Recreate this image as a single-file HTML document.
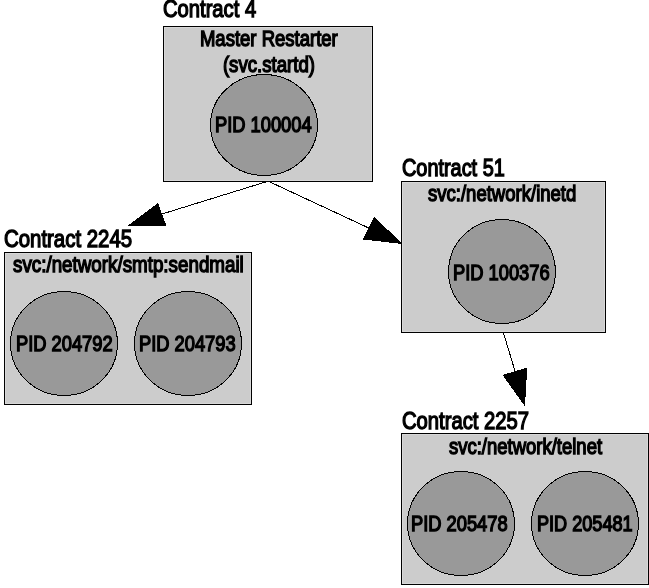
<!DOCTYPE html><html><head><meta charset="utf-8"><style>html,body{margin:0;padding:0;background:#fff;overflow:hidden}svg{display:block;will-change:transform}</style></head><body><svg width="649" height="588" viewBox="0 0 649 588" font-family="Liberation Sans, sans-serif">
<rect x="163.5" y="26.5" width="209" height="155" fill="#cccccc" stroke="#000" stroke-width="1"/>
<rect x="164.5" y="27.5" width="207" height="153" fill="none" stroke="#d8d8d8" stroke-width="1"/>
<rect x="4.5" y="252.5" width="247" height="152" fill="#cccccc" stroke="#000" stroke-width="1"/>
<rect x="5.5" y="253.5" width="245" height="150" fill="none" stroke="#d8d8d8" stroke-width="1"/>
<rect x="401.5" y="181.5" width="204" height="151" fill="#cccccc" stroke="#000" stroke-width="1"/>
<rect x="402.5" y="182.5" width="202" height="149" fill="none" stroke="#d8d8d8" stroke-width="1"/>
<rect x="401.5" y="433.5" width="247" height="151" fill="#cccccc" stroke="#000" stroke-width="1"/>
<rect x="402.5" y="434.5" width="245" height="149" fill="none" stroke="#d8d8d8" stroke-width="1"/>
<g fill="#999999" stroke="#000" stroke-width="1" shape-rendering="crispEdges">
<ellipse cx="264" cy="125" rx="53.5" ry="50.5"/>
<ellipse cx="502" cy="271.5" rx="53.5" ry="52"/>
<ellipse cx="64" cy="343.5" rx="53.5" ry="52"/>
<ellipse cx="188" cy="343.5" rx="53.5" ry="52"/>
<ellipse cx="461" cy="523.5" rx="53.5" ry="52"/>
<ellipse cx="585" cy="523.5" rx="53.5" ry="52"/>
</g>
<g stroke="#000" stroke-width="1" shape-rendering="crispEdges">
<line x1="265.5" y1="182" x2="162" y2="214"/>
<line x1="270" y1="182" x2="368.7" y2="228"/>
<line x1="503.5" y1="333" x2="515" y2="371"/>
</g>
<g fill="#000" shape-rendering="crispEdges">
<polygon points="127.5,226 158,203 166.5,226"/>
<polygon points="374,216.5 363,239.5 402.5,244"/>
<polygon points="502.5,375 527.2,367.5 525,406.5"/>
</g>
<text transform="translate(163.00,17.00) scale(0.8248,1)" font-size="24.5" stroke="#000" stroke-width="1.4">Contract 4</text>
<text transform="translate(199.92,46.00) scale(0.8419,1)" font-size="22" stroke="#000" stroke-width="1.4">Master Restarter</text>
<text transform="translate(222.91,71.50) scale(0.8468,1)" font-size="22" stroke="#000" stroke-width="1.4">(svc.startd)</text>
<text transform="translate(214.93,132.00) scale(0.8326,1)" font-size="22" stroke="#000" stroke-width="1.4">PID 100004</text>
<text transform="translate(402.00,176.00) scale(0.8120,1)" font-size="24.5" stroke="#000" stroke-width="1.4">Contract 51</text>
<text transform="translate(428.00,201.00) scale(0.8431,1)" font-size="22" stroke="#000" stroke-width="1.4">svc:/network/inetd</text>
<text transform="translate(452.93,280.00) scale(0.8333,1)" font-size="22" stroke="#000" stroke-width="1.4">PID 100376</text>
<text transform="translate(4.00,247.00) scale(0.8324,1)" font-size="24.5" stroke="#000" stroke-width="1.4">Contract 2245</text>
<text transform="translate(13.00,272.00) scale(0.8546,1)" font-size="22" stroke="#000" stroke-width="1.4">svc:/network/smtp:sendmail</text>
<text transform="translate(15.93,351.00) scale(0.8332,1)" font-size="22" stroke="#000" stroke-width="1.4">PID 204792</text>
<text transform="translate(138.93,351.00) scale(0.8333,1)" font-size="22" stroke="#000" stroke-width="1.4">PID 204793</text>
<text transform="translate(402.00,429.00) scale(0.8259,1)" font-size="24.5" stroke="#000" stroke-width="1.4">Contract 2257</text>
<text transform="translate(449.00,454.00) scale(0.8404,1)" font-size="22" stroke="#000" stroke-width="1.4">svc:/network/telnet</text>
<text transform="translate(410.93,531.00) scale(0.8333,1)" font-size="22" stroke="#000" stroke-width="1.4">PID 205478</text>
<text transform="translate(536.94,531.00) scale(0.8243,1)" font-size="22" stroke="#000" stroke-width="1.4">PID 205481</text>
</svg></body></html>
